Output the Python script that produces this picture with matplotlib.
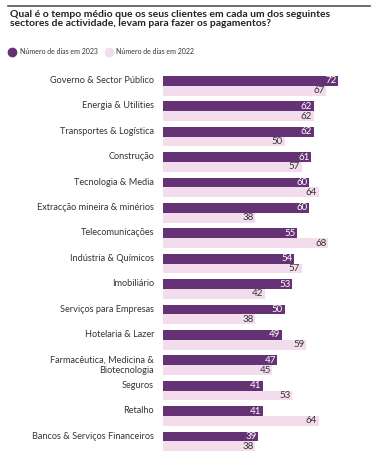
import matplotlib
matplotlib.use("Agg")
import matplotlib.pyplot as plt
from matplotlib.lines import Line2D
import numpy as np

plt.rcParams['font.family'] = ['Lato', 'DejaVu Sans']

# data
sectores = ["Governo & Sector Público", "Energia & Utilities", "Transportes & Logística",
            "Construção", "Tecnologia & Media", "Extracção mineira & minérios",
            "Telecomunicações", "Indústria & Químicos", "Imobiliário",
            "Serviços para Empresas", "Hotelaria & Lazer",
            "Farmacêutica, Medicina &\nBiotecnologia", "Seguros", "Retalho",
            "Bancos & Serviços Financeiros"]
dias_2023 = [72, 62, 62, 61, 60, 60, 55, 54, 53, 50, 49, 47, 41, 41, 39]
dias_2022 = [67, 62, 50, 57, 64, 38, 68, 57, 42, 38, 59, 45, 53, 64, 38]

c23 = "#653275"
c22 = "#f3dcec"
txt = "#333333"

W, H = 376, 463
fig = plt.figure(figsize=(W / 100, H / 100), dpi=100)

# axes placement in pixels
left, right = 163, 369.6
top, bottom = 73.1, 454.2
ax = fig.add_axes([left / W, 1 - bottom / H, (right - left) / W, (bottom - top) / H])

y = np.arange(len(sectores))
h = 0.385
ax.barh(y - h / 2, dias_2023, height=h, color=c23)
ax.barh(y + h / 2, dias_2022, height=h, color=c22)

for i in range(len(sectores)):
    ax.text(dias_2023[i] - 0.6, y[i] - h / 2, str(dias_2023[i]), ha='right', va='center',
            color='white', fontsize=7)
    ax.text(dias_2022[i] - 0.6, y[i] + h / 2, str(dias_2022[i]), ha='right', va='center',
            color=txt, fontsize=7)
    ax.text(-3.7, y[i] - h + 0.0, sectores[i], ha='right', va='top', color=txt,
            fontsize=6.6, linespacing=1.2)

ax.set_xlim(0, 85)
ax.set_ylim(len(sectores) - 0.5, -0.5)
ax.axis('off')

# top rule
fig.add_artist(Line2D([8 / W, 370 / W], [1 - 6 / H, 1 - 6 / H], color='#555555', lw=1.2))

fig.text(10 / W, 1 - 10 / H,
         "Qual é o tempo médio que os seus clientes em cada um dos seguintes\n"
         "sectores de actividade, levam para fazer os pagamentos?",
         ha='left', va='top', fontsize=7.5, fontweight='bold', color='#222222', linespacing=1.0)

# legend
ly = 1 - 51.5 / H
fig.add_artist(Line2D([12 / W], [ly], marker='o', markersize=6, color=c23, lw=0))
fig.text(20 / W, ly, "Número de dias em 2023", fontsize=5, va='center', color=txt)
fig.add_artist(Line2D([109 / W], [ly], marker='o', markersize=6, color=c22, lw=0))
fig.text(116 / W, ly, "Número de dias em 2022", fontsize=5, va='center', color=txt)

fig.savefig("out.png", dpi=100, facecolor='white')
